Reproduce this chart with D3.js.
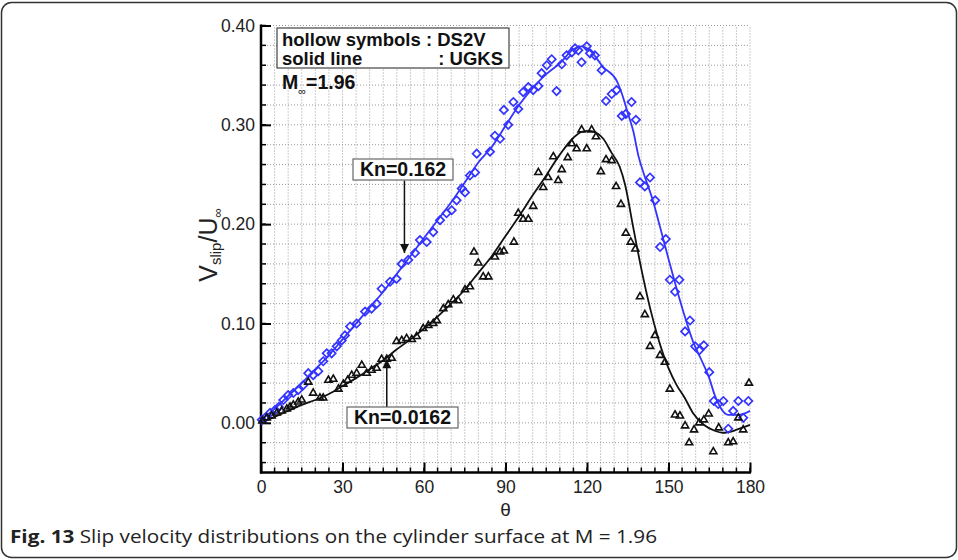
<!DOCTYPE html>
<html>
<head>
<meta charset="utf-8">
<style>
  body { margin: 0; background: #fff; }
  svg { display: block; font-family: "Liberation Sans", Arial, sans-serif; }
  .grid line { stroke: #9a9a9a; stroke-width: 1; stroke-dasharray: 1,2; }
  .axis-line { stroke: #000; stroke-width: 2.5; }
  .tick-lab { font-size: 17.5px; fill: #222; }
</style>
</head>
<body>
<div class="chart"></div>
<script src="https://cdn.jsdelivr.net/npm/d3@7"></script>
<script>
// tick values
var thetaTicks = [0, 30, 60, 90, 120, 150, 180];
var vTicks = [0.00, 0.10, 0.20, 0.30, 0.40];

// UGKS, Kn = 0.162 (blue line)
var ugksHiTheta = [0,5,10,15,20,25,30,35,40,45,50,55,60,65,70,75,80,85,90,95,100,105,110,115,118,121,126,131,133,135,137,139,141,144,147,150,153,156,159,162,165,167,169,172,176,180];
var ugksHiV = [0.003,0.014,0.027,0.040,0.054,0.068,0.084,0.100,0.116,0.132,0.150,0.168,0.186,0.204,0.222,0.242,0.262,0.278,0.299,0.320,0.337,0.351,0.362,0.376,0.379,0.375,0.358,0.344,0.330,0.312,0.294,0.268,0.250,0.226,0.196,0.165,0.135,0.107,0.082,0.064,0.045,0.028,0.016,0.008,0.008,0.012];

// UGKS, Kn = 0.0162 (black line)
var ugksLoTheta = [0,5,10,15,20,25,30,35,40,45,50,55,60,65,70,75,80,85,90,95,100,104,110,115,118,121,124,126,129,132,134,137,140,143,146,150,153,156,159,163,167,170,174,178,180];
var ugksLoV = [0,0.006,0.012,0.018,0.023,0.029,0.037,0.045,0.054,0.063,0.074,0.084,0.095,0.107,0.120,0.134,0.151,0.168,0.188,0.208,0.229,0.245,0.270,0.287,0.293,0.294,0.291,0.286,0.272,0.258,0.240,0.197,0.155,0.118,0.087,0.055,0.038,0.025,0.010,-0.002,-0.008,-0.010,-0.008,-0.004,-0.002];

// DS2V, Kn = 0.162 (hollow diamonds)
var ds2vHiTheta = [0.3,1.5,3.3,5.2,6.6,8.2,10.0,11.9,13.7,15.6,17.4,19.2,21.1,22.9,24.2,26.0,27.9,29.7,30.9,32.8,35.2,38.3,40.7,42.6,44.4,47.5,49.9,51.8,54.2,56.7,58.5,61.0,63.4,65.9,68.3,70.2,72.0,73.9,75.1,76.9,78.8,79.4,84.3,86.1,88.0,89.4,91.0,92.9,94.7,96.5,98.4,100.2,102.1,103.3,105.2,107.0,108.8,110.7,112.5,114.4,115.6,116.8,118.0,119.9,121.1,122.9,125.4,127.0,129.1,130.9,132.8,134.3,136.4,138.0,139.5,141.3,143.2,145.1,146.9,149.0,150.5,152.4,154.0,156.1,157.9,159.8,161.3,163.0,165.0,166.7,168.3,170.2,172.0,173.8,175.7,177.5,179.4];
var ds2vHiV = [0.003,0.005,0.010,0.013,0.016,0.023,0.028,0.030,0.033,0.038,0.050,0.048,0.052,0.062,0.070,0.070,0.077,0.083,0.088,0.097,0.100,0.112,0.115,0.120,0.135,0.142,0.145,0.160,0.164,0.171,0.184,0.182,0.192,0.204,0.211,0.214,0.224,0.236,0.232,0.249,0.252,0.271,0.273,0.289,0.286,0.315,0.300,0.323,0.316,0.333,0.338,0.335,0.339,0.352,0.360,0.366,0.334,0.361,0.370,0.373,0.377,0.375,0.363,0.379,0.372,0.370,0.355,0.324,0.331,0.335,0.309,0.311,0.323,0.305,0.242,0.238,0.247,0.224,0.177,0.185,0.144,0.132,0.144,0.092,0.103,0.077,0.073,0.078,0.051,0.022,0.019,0.022,-0.006,0.012,0.022,0.005,0.022];

// DS2V, Kn = 0.0162 (hollow triangles)
var ds2vLoTheta = [0.5,2.1,3.9,5.8,7.6,9.5,10.7,11.9,13.7,15.0,17.4,19.2,21.7,22.9,24.8,26.6,28.5,30.3,31.9,33.4,35.2,37.1,38.9,40.7,42.6,44.4,46.3,48.1,49.9,51.8,53.6,55.5,57.3,59.7,61.6,63.4,64.7,67.1,68.9,70.8,72.6,75.1,76.9,78.4,80.0,81.8,83.7,86.1,88.0,89.4,93.1,94.7,96.5,98.4,100.2,102.1,103.9,105.7,107.6,109.4,110.7,112.9,114.4,116.2,118.0,119.9,121.7,123.3,125.1,127.0,129.1,130.7,132.5,134.3,136.1,137.8,139.5,141.3,143.2,145.0,146.9,148.7,150.5,152.4,154.2,156.1,157.6,159.4,161.3,163.0,164.8,166.5,168.5,172.0,173.8,175.7,177.5,179.6];
var ds2vLoV = [0.002,0.005,0.007,0.010,0.012,0.014,0.016,0.018,0.021,0.023,0.041,0.030,0.025,0.025,0.043,0.044,0.034,0.039,0.043,0.048,0.050,0.058,0.050,0.053,0.055,0.064,0.064,0.065,0.082,0.083,0.085,0.084,0.087,0.095,0.098,0.100,0.103,0.115,0.119,0.124,0.123,0.134,0.137,0.172,0.161,0.147,0.147,0.167,0.172,0.173,0.182,0.211,0.205,0.205,0.218,0.252,0.237,0.247,0.268,0.244,0.255,0.267,0.281,0.276,0.295,0.276,0.295,0.288,0.253,0.265,0.264,0.238,0.220,0.191,0.182,0.175,0.127,0.109,0.077,0.088,0.068,0.061,0.034,0.008,0.007,-0.003,-0.020,-0.007,0.000,0.003,0.009,-0.029,-0.005,-0.020,-0.019,0.005,-0.007,0.040];

var W = 958, H = 560;
var blue = "#3434ff";

var svg = d3.select(".chart").append("svg")
    .attr("width", W)
    .attr("height", H);

// outer frame of the figure
svg.append("rect")
    .attr("x", 1.5).attr("y", 2.5)
    .attr("width", W - 3).attr("height", H - 5)
    .attr("rx", 10).attr("ry", 10)
    .attr("fill", "#fff")
    .attr("stroke", "#333")
    .attr("stroke-width", 1.5);

var x = d3.scaleLinear().domain([0, 180]).range([261, 750]);
var y = d3.scaleLinear().domain([-0.05, 0.40]).range([472.5, 25.5]);

// dotted grid on every minor tick
var xMinor = d3.range(5, 181, 5);
var yMinor = d3.range(-0.04, 0.401, 0.02);

var grid = svg.append("g").attr("class", "grid");
grid.selectAll(".gx").data(xMinor).enter().append("line")
    .attr("x1", function(d){ return x(d); })
    .attr("x2", function(d){ return x(d); })
    .attr("y1", y(-0.05)).attr("y2", y(0.40));
grid.selectAll(".gy").data(yMinor).enter().append("line")
    .attr("x1", x(0)).attr("x2", x(180))
    .attr("y1", function(d){ return y(d); })
    .attr("y2", function(d){ return y(d); });

// minor ticks (inward)
svg.append("g").selectAll("line").data(xMinor).enter().append("line")
    .attr("x1", function(d){ return x(d); }).attr("x2", function(d){ return x(d); })
    .attr("y1", y(-0.05)).attr("y2", y(-0.05) - 5)
    .attr("stroke", "#000").attr("stroke-width", 1.5);
svg.append("g").selectAll("line").data(yMinor).enter().append("line")
    .attr("x1", x(0)).attr("x2", x(0) + 5)
    .attr("y1", function(d){ return y(d); }).attr("y2", function(d){ return y(d); })
    .attr("stroke", "#000").attr("stroke-width", 1.5);

// axes
var xAxis = d3.axisBottom(x).tickValues(thetaTicks).tickSize(-10).tickPadding(8);
var yAxis = d3.axisLeft(y).tickValues(vTicks).tickSize(-10).tickPadding(6)
    .tickFormat(d3.format(".2f"));

var gx = svg.append("g")
    .attr("transform", "translate(0," + y(-0.05) + ")")
    .call(xAxis);
var gy = svg.append("g")
    .attr("transform", "translate(" + x(0) + ",0)")
    .call(yAxis);

[gx, gy].forEach(function(g){
  g.select(".domain").remove();
  g.selectAll(".tick line").attr("stroke", "#000").attr("stroke-width", 2);
  g.selectAll(".tick text").attr("class", "tick-lab").attr("font-family", null).attr("font-size", null);
});

svg.append("line").attr("class", "axis-line")
    .attr("x1", x(0)).attr("x2", x(0))
    .attr("y1", y(0.40) - 1).attr("y2", y(-0.05) + 1);
svg.append("line").attr("class", "axis-line")
    .attr("x1", x(0) - 1).attr("x2", x(180) + 1)
    .attr("y1", y(-0.05)).attr("y2", y(-0.05));

// solid lines (UGKS)
var line = d3.line()
    .x(function(d){ return x(d[0]); })
    .y(function(d){ return y(d[1]); })
    .curve(d3.curveMonotoneX);

var hiLine = ugksHiTheta.map(function(t, i){ return [t, ugksHiV[i]]; });
var loLine = ugksLoTheta.map(function(t, i){ return [t, ugksLoV[i]]; });

svg.append("path").datum(hiLine)
    .attr("d", line).attr("fill", "none")
    .attr("stroke", blue).attr("stroke-width", 1.8);
svg.append("path").datum(loLine)
    .attr("d", line).attr("fill", "none")
    .attr("stroke", "#111").attr("stroke-width", 1.8);

// hollow symbols (DS2V)
var hiPts = ds2vHiTheta.map(function(t, i){ return [t, ds2vHiV[i]]; });
var loPts = ds2vLoTheta.map(function(t, i){ return [t, ds2vLoV[i]]; });

svg.append("g").selectAll("path").data(hiPts).enter().append("path")
    .attr("d", d3.symbol().type(d3.symbolSquare).size(34))
    .attr("transform", function(d){ return "translate(" + x(d[0]) + "," + y(d[1]) + ") rotate(45)"; })
    .attr("fill", "none").attr("stroke", blue).attr("stroke-width", 1.7);

svg.append("g").selectAll("path").data(loPts).enter().append("path")
    .attr("d", d3.symbol().type(d3.symbolTriangle).size(22))
    .attr("transform", function(d){ return "translate(" + x(d[0]) + "," + y(d[1]) + ")"; })
    .attr("fill", "none").attr("stroke", "#111").attr("stroke-width", 1.6);

// axis titles
svg.append("text")
    .attr("x", x(90)).attr("y", 516)
    .attr("text-anchor", "middle")
    .attr("font-size", 19).attr("fill", "#222")
    .text("θ");

var yt = svg.append("text")
    .attr("transform", "translate(217,245) rotate(-90)")
    .attr("text-anchor", "middle")
    .attr("font-size", 25).attr("fill", "#222");
yt.append("tspan").text("V");
yt.append("tspan").attr("font-size", 15).attr("dy", 4).text("slip");
yt.append("tspan").attr("dy", -4).text("/U");
yt.append("tspan").attr("font-size", 13).attr("dy", 5).text("∞");

// legend box
svg.append("rect")
    .attr("x", 277).attr("y", 28).attr("width", 232).attr("height", 40)
    .attr("fill", "#fff").attr("stroke", "#444").attr("stroke-width", 1.2);
svg.append("text").attr("x", 282).attr("y", 46)
    .attr("font-size", 18.5).attr("font-weight", "bold").attr("fill", "#111")
    .text("hollow symbols : DS2V");
svg.append("text").attr("x", 282).attr("y", 65)
    .attr("font-size", 18.5).attr("font-weight", "bold").attr("fill", "#111")
    .text("solid line");
svg.append("text").attr("x", 503).attr("y", 65)
    .attr("text-anchor", "end")
    .attr("font-size", 18.5).attr("font-weight", "bold").attr("fill", "#111")
    .text(": UGKS");
var mt = svg.append("text").attr("x", 282).attr("y", 89)
    .attr("font-size", 19.5).attr("font-weight", "bold").attr("fill", "#111");
mt.append("tspan").text("M");
mt.append("tspan").attr("font-size", 11).attr("font-weight", "normal").attr("dy", 6).text("∞");
mt.append("tspan").attr("dy", -6).text("=1.96");

// Kn annotations with arrows
var notes = [
  {text: "Kn=0.162", bx: 353, by: 159, bw: 100, ax: 52.8, from: 0.244, to: 0.171},
  {text: "Kn=0.0162", bx: 347, by: 407, bw: 111, ax: 46.3, from: 0.016, to: 0.064}
];

svg.append("defs").append("marker")
    .attr("id", "head")
    .attr("viewBox", "0 0 10 10")
    .attr("refX", 10).attr("refY", 5)
    .attr("markerWidth", 18).attr("markerHeight", 9)
    .attr("markerUnits", "userSpaceOnUse")
    .attr("orient", "auto")
  .append("path")
    .attr("d", "M0,0 L10,5 L0,10 Z")
    .attr("fill", "#111");

notes.forEach(function(n){
  svg.append("line")
      .attr("x1", x(n.ax)).attr("x2", x(n.ax))
      .attr("y1", y(n.from)).attr("y2", y(n.to))
      .attr("stroke", "#111").attr("stroke-width", 1.5)
      .attr("marker-end", "url(#head)");
  svg.append("rect")
      .attr("x", n.bx).attr("y", n.by).attr("width", n.bw).attr("height", 21)
      .attr("fill", "#fff").attr("stroke", "#666").attr("stroke-width", 1.2);
  svg.append("text")
      .attr("x", n.bx + n.bw / 2).attr("y", n.by + 17)
      .attr("text-anchor", "middle")
      .attr("font-size", 19.5).attr("font-weight", "bold").attr("fill", "#111")
      .text(n.text);
});

// caption
var cap = svg.append("text")
    .attr("x", 10).attr("y", 543)
    .attr("font-family", "'Open Sans', sans-serif")
    .attr("font-size", 17.5).attr("fill", "#222")
    .attr("textLength", 647).attr("lengthAdjust", "spacingAndGlyphs");
cap.append("tspan").attr("font-weight", "bold").text("Fig. 13");
cap.append("tspan").text(" Slip velocity distributions on the cylinder surface at M = 1.96");
</script>
</body>
</html>
